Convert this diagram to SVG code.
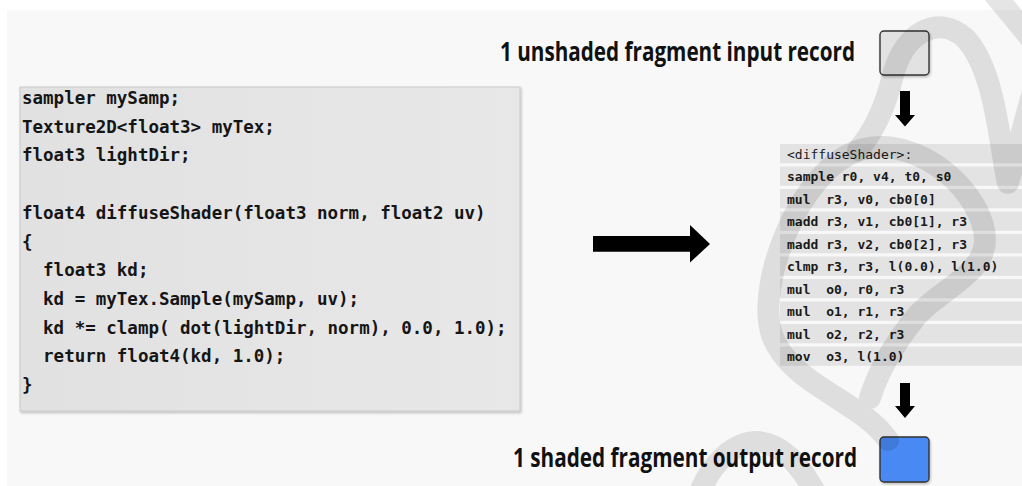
<svg xmlns="http://www.w3.org/2000/svg" width="1022" height="486" viewBox="0 0 1022 486">
  <defs>
    <linearGradient id="codeGrad" x1="0" y1="0" x2="1" y2="0">
      <stop offset="0" stop-color="#e1e1e1"/>
      <stop offset="1" stop-color="#e8e8e8"/>
    </linearGradient>
    <filter id="shadow" x="-5%" y="-5%" width="115%" height="115%">
      <feDropShadow dx="1" dy="1.5" stdDeviation="1" flood-color="#000" flood-opacity="0.25"/>
    </filter>
  </defs>
  <style>
    .code { font-family: "DejaVu Sans Mono", "Liberation Mono", monospace; font-weight: bold; font-size: 17.5px; fill: #151515; white-space: pre; }
    .asm { font-family: "DejaVu Sans Mono", "Liberation Mono", monospace; font-weight: bold; font-size: 13px; fill: #1a1a1a; white-space: pre; }
    .asmh { font-weight: normal; }
    .row { fill: #e3e3e3; }
    .title { font-family: "Open Sans", "Liberation Sans", sans-serif; font-weight: bold; font-size: 27px; fill: #111; }
    .arrow { fill: #000; }
    .wm { fill: none; stroke: #000; stroke-opacity: 0.1; stroke-width: 22; stroke-linecap: round; stroke-linejoin: round; }
  </style>

  <rect x="0" y="0" width="1022" height="486" fill="#ffffff"/>
  <rect x="7" y="10" width="1015" height="476" fill="#f8f8f8"/>

  <g id="code-box">
    <rect x="20" y="87" width="500" height="324" fill="url(#codeGrad)" stroke="#c9c9c9" stroke-width="1" filter="url(#shadow)"/>
    <text class="code" x="22" y="104">sampler mySamp;</text>
    <text class="code" x="22" y="132.7">Texture2D&lt;float3&gt; myTex;</text>
    <text class="code" x="22" y="161.4">float3 lightDir;</text>
    <text class="code" x="22" y="218.8">float4 diffuseShader(float3 norm, float2 uv)</text>
    <text class="code" x="22" y="247.5">{</text>
    <text class="code" x="22" y="276.2">  float3 kd;</text>
    <text class="code" x="22" y="304.9">  kd = myTex.Sample(mySamp, uv);</text>
    <text class="code" x="22" y="333.6">  kd *= clamp( dot(lightDir, norm), 0.0, 1.0);</text>
    <text class="code" x="22" y="362.3">  return float4(kd, 1.0);</text>
    <text class="code" x="22" y="391">}</text>
  </g>

  <g id="asm-table">
    <rect class="row" x="780" y="144" width="242" height="19.3"/>
    <rect class="row" x="780" y="166.5" width="242" height="19.3"/>
    <rect class="row" x="780" y="189" width="242" height="19.3"/>
    <rect class="row" x="780" y="211.5" width="242" height="19.3"/>
    <rect class="row" x="780" y="234" width="242" height="19.3"/>
    <rect class="row" x="780" y="256.5" width="242" height="19.3"/>
    <rect class="row" x="780" y="279" width="242" height="19.3"/>
    <rect class="row" x="780" y="301.5" width="242" height="19.3"/>
    <rect class="row" x="780" y="324" width="242" height="19.3"/>
    <rect class="row" x="780" y="346.5" width="242" height="19.3"/>
    <text class="asm asmh" x="787" y="158.5">&lt;diffuseShader&gt;:</text>
    <text class="asm" x="787" y="181">sample r0, v4, t0, s0</text>
    <text class="asm" x="787" y="203.5">mul  r3, v0, cb0[0]</text>
    <text class="asm" x="787" y="226">madd r3, v1, cb0[1], r3</text>
    <text class="asm" x="787" y="248.5">madd r3, v2, cb0[2], r3</text>
    <text class="asm" x="787" y="271">clmp r3, r3, l(0.0), l(1.0)</text>
    <text class="asm" x="787" y="293.5">mul  o0, r0, r3</text>
    <text class="asm" x="787" y="316">mul  o1, r1, r3</text>
    <text class="asm" x="787" y="338.5">mul  o2, r2, r3</text>
    <text class="asm" x="787" y="361">mov  o3, l(1.0)</text>
  </g>

  <g id="input-record">
    <text class="title" x="500" y="61" textLength="355" lengthAdjust="spacingAndGlyphs">1 unshaded fragment input record</text>
    <rect x="880" y="31" width="49" height="44" rx="4" fill="#e2e2e2" stroke="#333" stroke-width="1.4" filter="url(#shadow)"/>
  </g>

  <g id="output-record">
    <text class="title" x="513" y="466.5" textLength="344" lengthAdjust="spacingAndGlyphs">1 shaded fragment output record</text>
    <rect x="880" y="437" width="49" height="45" rx="4" fill="#4a89f3" stroke="#333" stroke-width="1.4" filter="url(#shadow)"/>
  </g>

  <g id="connectors">
    <polygon class="arrow" points="900,91 910,91 910,115 915,115 905,126.5 895,115 900,115"/>
    <polygon class="arrow" points="593,236 690,236 690,225 710,244 690,262.5 690,251.7 593,251.7"/>
    <polygon class="arrow" points="900,383 910,383 910,406 915,406 905,418 895,406 900,406"/>
  </g>

  <g id="watermark">
    <path class="wm" d="M 1032,95 L 1008,183 C 1000,150 996,70 965,38 C 940,15 905,30 893,75 C 886,105 875,130 858,150"/>
    <path class="wm" d="M 888,440 C 860,400 790,385 772,335 C 755,285 800,168 860,150 C 920,133 985,195 985,240 C 985,275 935,292 915,318 C 895,343 878,372 870,398"/>
    <path class="wm" d="M 700,492 C 712,462 735,442 757,442 C 782,443 800,465 815,492"/>
    <path class="wm" d="M 995,-5 L 1032,40"/>
  </g>
</svg>
